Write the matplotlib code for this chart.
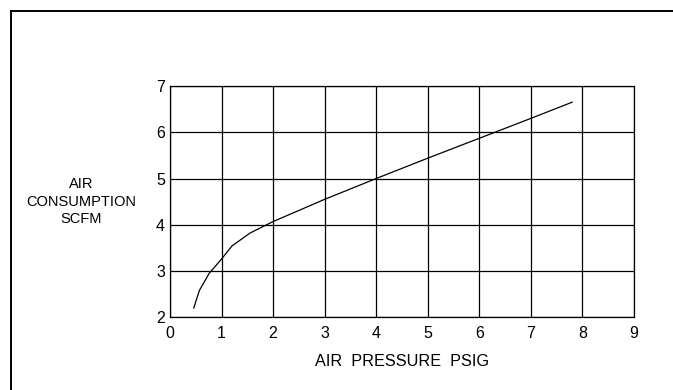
import numpy as np
import matplotlib.pyplot as plt
from matplotlib.lines import Line2D

# Data
pressure = [0.46, 0.57, 0.76, 1.0, 1.2, 1.55, 2.0, 3.0, 4.0, 5.0, 6.0, 7.0, 7.8]
consumption = [2.2, 2.58, 2.95, 3.26, 3.54, 3.82, 4.07, 4.55, 5.0, 5.44, 5.87, 6.3, 6.65]
x_ticks = list(range(0, 10))
y_ticks = list(range(2, 8))

plt.rcParams['font.family'] = ['Liberation Sans', 'DejaVu Sans']

W, H = 673, 390
fig = plt.figure(figsize=(W / 100, H / 100), dpi=100)
ax = fig.add_axes([170 / W, 1 - 317.3 / H, 464 / W, 231.3 / H])

ax.plot(pressure, consumption, color="black", lw=0.9)

ax.set_xlim(0, 9)
ax.set_ylim(2, 7)
ax.set_xticks(x_ticks)
ax.set_yticks(y_ticks)
ax.grid(True, color="black", lw=0.9)
ax.tick_params(length=0, labelsize=11.5, pad=3.6)
ax.tick_params(axis="x", pad=6)
for s in ax.spines.values():
    s.set_linewidth(0.9)

# labels
fig.text(81 / W, 1 - 201.5 / H, "AIR\nCONSUMPTION\nSCFM", ha="center", va="center",
         fontsize=10.5, linespacing=1.35)
fig.text(402 / W, 1 - 362 / H, "AIR  PRESSURE  PSIG", ha="center", va="center",
         fontsize=11.7)

# page border (top and left only)
fig.add_artist(Line2D([11 / W, 11 / W], [0, 1 - 10.5 / H], color="black", lw=1.4,
                      transform=fig.transFigure))
fig.add_artist(Line2D([11 / W, 1], [1 - 10.5 / H, 1 - 10.5 / H], color="black", lw=1.4,
                      transform=fig.transFigure))

fig.savefig("out.png", dpi=100)
